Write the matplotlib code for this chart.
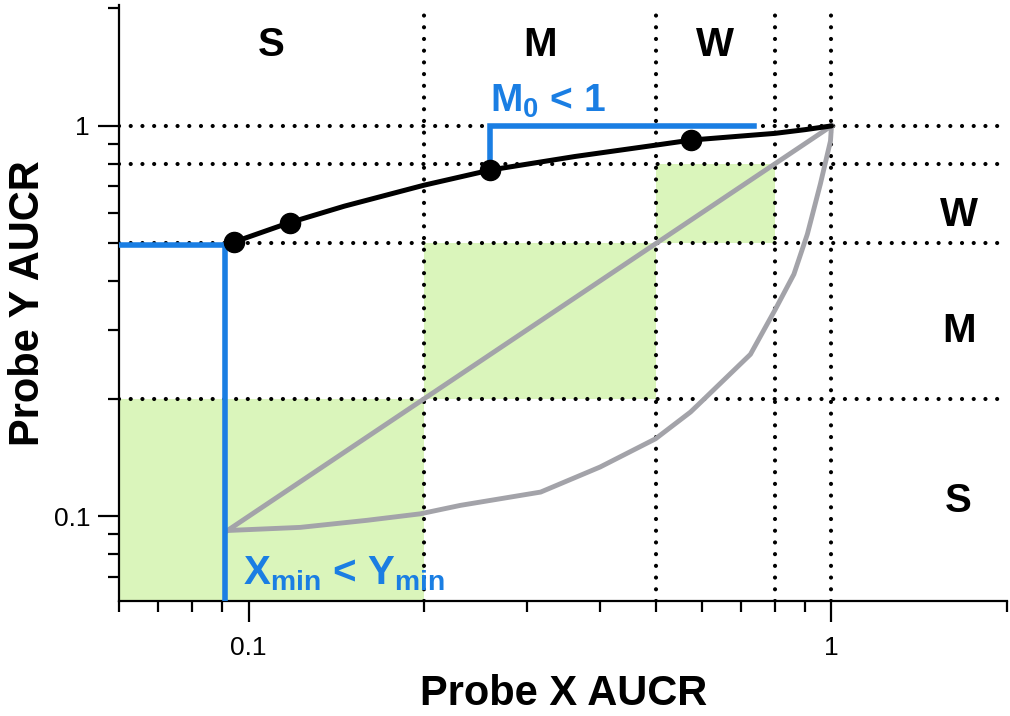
import matplotlib.pyplot as plt
from matplotlib.ticker import FuncFormatter, LogLocator, NullFormatter

plt.rcParams['font.family'] = 'Liberation Sans'
plt.rcParams['mathtext.fontset'] = 'custom'
plt.rcParams['mathtext.rm'] = 'Liberation Sans'
plt.rcParams['mathtext.bf'] = 'Liberation Sans:bold'

# strength bins (same on both axes) and their labels
bin_edges = [0.06, 0.2, 0.5, 0.8]
bin_tops = [0.2, 0.5, 0.8]
bin_names = ['S', 'M', 'W']
bin_centers = [0.1095, 0.316, 0.632]
cut_lines = [0.2, 0.5, 0.8, 1.0]

# measured response curve and its sample points
curve_x = [0.094, 0.117, 0.146, 0.2, 0.26, 0.363, 0.5, 0.575, 0.7, 0.8, 0.9, 1.0]
curve_y = [0.503, 0.564, 0.623, 0.705, 0.771, 0.835, 0.893, 0.92, 0.942, 0.957, 0.978, 1.0]
dots_x = [0.0943, 0.1176, 0.26, 0.575]
dots_y = [0.503, 0.564, 0.771, 0.92]

# reference curves: identity and the lower bound
diag_x = [0.092, 1.0]
diag_y = [0.092, 1.0]
low_x = [0.092, 0.1226, 0.1597, 0.197, 0.2309, 0.317, 0.401, 0.499, 0.573, 0.603,
         0.726, 0.801, 0.862, 0.909, 0.957, 0.996, 1.0]
low_y = [0.092, 0.0937, 0.0977, 0.1015, 0.1067, 0.1154, 0.1338, 0.158, 0.185, 0.199,
         0.26, 0.339, 0.417, 0.528, 0.71, 0.915, 1.0]

# blue guide brackets
xmin_val = 0.091
ymin_val = 0.495
m0_x = [0.2592, 0.2592, 0.736]
m0_y = [0.771, 1.0, 1.0]

BLUE = '#1a7ee3'
GREEN = '#daf5bb'
GREY = '#a3a3a9'

fig = plt.figure(figsize=(10.1, 7.16), dpi=100)
ax = fig.add_axes([0.1181, 0.1606, 0.8789, 0.8324])
ax.set_xscale('log')
ax.set_yscale('log')
ax.set_xlim(0.06, 2)
ax.set_ylim(0.0607, 2.04)

# matching-bin boxes
for lo, hi in zip(bin_edges[:3], bin_tops):
    ax.fill_between([lo, hi], [lo, lo], [hi, hi], color=GREEN, lw=0, zorder=0)

dot_style = dict(color='black', lw=3.0, linestyle=(0, (0.01, 2.8)),
                 dash_capstyle='round', zorder=1)
for v in cut_lines:
    ax.axvline(v, **dot_style)
    ax.axhline(v, **dot_style)

ax.plot(diag_x, diag_y, color=GREY, lw=3.5, zorder=2)
ax.plot(low_x, low_y, color=GREY, lw=3.5, zorder=2)

ax.plot([0.06, xmin_val, xmin_val], [ymin_val, ymin_val, 0.06],
        color=BLUE, lw=4.0, zorder=3, solid_joinstyle='miter')
ax.plot(m0_x, m0_y, color=BLUE, lw=4.0, zorder=3, solid_joinstyle='miter')

ax.plot(curve_x, curve_y, color='black', lw=3.6, zorder=4, solid_capstyle='round')
ax.plot(dots_x, dots_y, 'o', color='black', ms=14.5, zorder=5)

ax.text(0.26, 1.09, r'M$_\mathbf{0}$ < 1', color=BLUE, fontsize=28,
        fontweight='bold', ha='left', va='baseline', zorder=6)
ax.text(0.098, 0.0671, r'X$_\mathbf{min}$ < Y$_\mathbf{min}$', color=BLUE,
        fontsize=29, fontweight='bold', ha='left', va='baseline', zorder=6)

# bin names along the top and the right
for name, c in zip(bin_names, bin_centers):
    ax.text(c, 1.513, name, fontsize=29, fontweight='bold', ha='center', va='baseline')
for name, yb in zip(bin_names, [0.1026, 0.2803, 0.553]):
    ax.text(1.652, yb, name, fontsize=29, fontweight='bold', ha='center', va='baseline')

for side in ['top', 'right']:
    ax.spines[side].set_visible(False)
for side in ['left', 'bottom']:
    ax.spines[side].set_linewidth(1.6)

for axis in [ax.xaxis, ax.yaxis]:
    axis.set_major_locator(LogLocator(base=10))
    axis.set_minor_locator(LogLocator(base=10, subs=range(2, 10)))
    axis.set_major_formatter(FuncFormatter(lambda v, p: '%g' % v))
    axis.set_minor_formatter(NullFormatter())

ax.tick_params(which='major', length=15, width=1.6, labelsize=19, direction='out')
ax.tick_params(which='minor', length=8, width=1.6, direction='out')
ax.tick_params(axis='x', which='major', pad=10)
ax.tick_params(axis='y', which='major', pad=6)

ax.set_xlabel('Probe X AUCR', fontsize=30, fontweight='bold', labelpad=10)
ax.set_ylabel('Probe Y AUCR', fontsize=30, fontweight='bold', labelpad=4)

fig.savefig('out.png', dpi=100)
